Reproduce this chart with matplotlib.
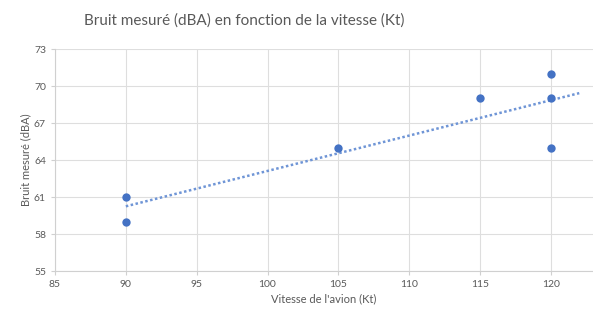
import numpy as np
import matplotlib
matplotlib.use("Agg")
import matplotlib.pyplot as plt

plt.rcParams['font.family'] = ['Lato', 'DejaVu Sans']

title = "Bruit mesuré (dBA) en fonction de la vitesse (Kt)"
xlabel = "Vitesse de l'avion (Kt)"
ylabel = "Bruit mesuré (dBA)"
speed = [90, 90, 105, 115, 120, 120, 120]
noise = [61, 59, 65, 69, 71, 69, 65]
xticks = [85, 90, 95, 100, 105, 110, 115, 120]
yticks = [55, 58, 61, 64, 67, 70, 73]

fig = plt.figure(figsize=(5.93, 3.11), dpi=100)
ax = fig.add_axes([0.0927, 0.1286, 0.9073, 0.7138])
ax.set_xlim(85, 122.97)
ax.set_ylim(55, 73)
ax.set_xticks(xticks)
ax.set_yticks(yticks)
ax.grid(True, color='#dedede', linewidth=0.8)
ax.set_axisbelow(True)
for s in ['top', 'right']:
    ax.spines[s].set_visible(False)
for s in ['left', 'bottom']:
    ax.spines[s].set_color('#d0d0d0')
ax.tick_params(colors='#d0d0d0', labelcolor='#595959', labelsize=7.5, length=3)

blue = '#4472C4'
ax.scatter(speed, noise, s=36, color=blue, zorder=3, linewidths=0)
coef = np.polyfit(speed, noise, 1)
xs = np.array([min(speed), 122])
ax.plot(xs, np.polyval(coef, xs), linestyle=(0, (1, 1)), color='#6f95d6', linewidth=1.8, zorder=2)

ax.set_xlabel(xlabel, fontsize=8, color='#595959', labelpad=3)
ax.set_ylabel(ylabel, fontsize=8, color='#595959', labelpad=2)
fig.text(0.412, 0.935, title, fontsize=11, color='#595959', ha='center', va='center')

fig.savefig('out.png', dpi=100)
